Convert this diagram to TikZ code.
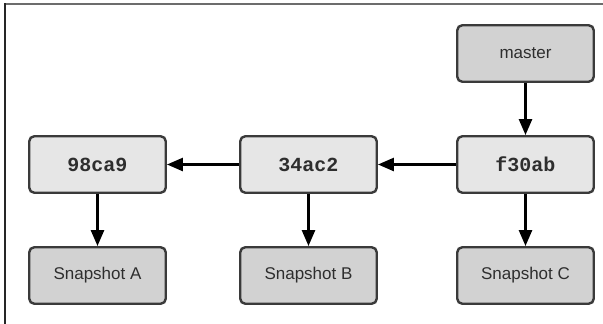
\documentclass[tikz,border=0pt]{standalone}
\usepackage{fontspec}
\setmainfont{Liberation Sans}
\setmonofont{Liberation Mono}
\usetikzlibrary{arrows.meta}
\definecolor{boxline}{HTML}{3A3A3A}
\definecolor{commitfill}{HTML}{E6E6E6}
\definecolor{snapfill}{HTML}{D2D2D2}
\definecolor{txt}{HTML}{2E2E2E}
\tikzset{
  base/.style={draw=boxline, line width=2.4pt, rounded corners=5pt,
    minimum width=136.5pt, minimum height=56.5pt, inner sep=0pt, text=txt},
  commitbox/.style={base, fill=commitfill, font=\ttfamily\bfseries\fontsize{20}{20}\selectfont},
  snapbox/.style={base, fill=snapfill, font=\fontsize{17}{17}\selectfont},
  arr/.style={line width=2.6pt, draw=black, -{Triangle[length=16pt,width=13pt]}},
}
\begin{document}
\begin{tikzpicture}[x=1pt,y=-1pt]
\useasboundingbox (0,0) rectangle (603,324);
\fill[white] (0,0) rectangle (603,324);
\draw[line width=1.6pt, draw=gray!85!black] (4.2,4) -- (603,4);
\draw[line width=2pt, draw=black!85] (5,3.2) -- (5,324);

\node[snapbox]   (master) at (525.5,53.5)  {master};
\node[commitbox] (c3)     at (525.5,164.5) {f30ab};
\node[commitbox] (c2)     at (308.5,164.5) {34ac2};
\node[commitbox] (c1)     at (97.5,164.5)  {98ca9};
\node[snapbox]   (sA)     at (97.5,275.5)  {Snapshot A};
\node[snapbox]   (sB)     at (308.5,275.5) {Snapshot B};
\node[snapbox]   (sC)     at (525.5,275.5) {Snapshot C};

\draw[arr] (master.south) -- (c3.north);
\draw[arr] (c3.west) -- (c2.east);
\draw[arr] (c2.west) -- (c1.east);
\draw[arr] (c1.south) -- (sA.north);
\draw[arr] (c2.south) -- (sB.north);
\draw[arr] (c3.south) -- (sC.north);
\end{tikzpicture}
\end{document}
